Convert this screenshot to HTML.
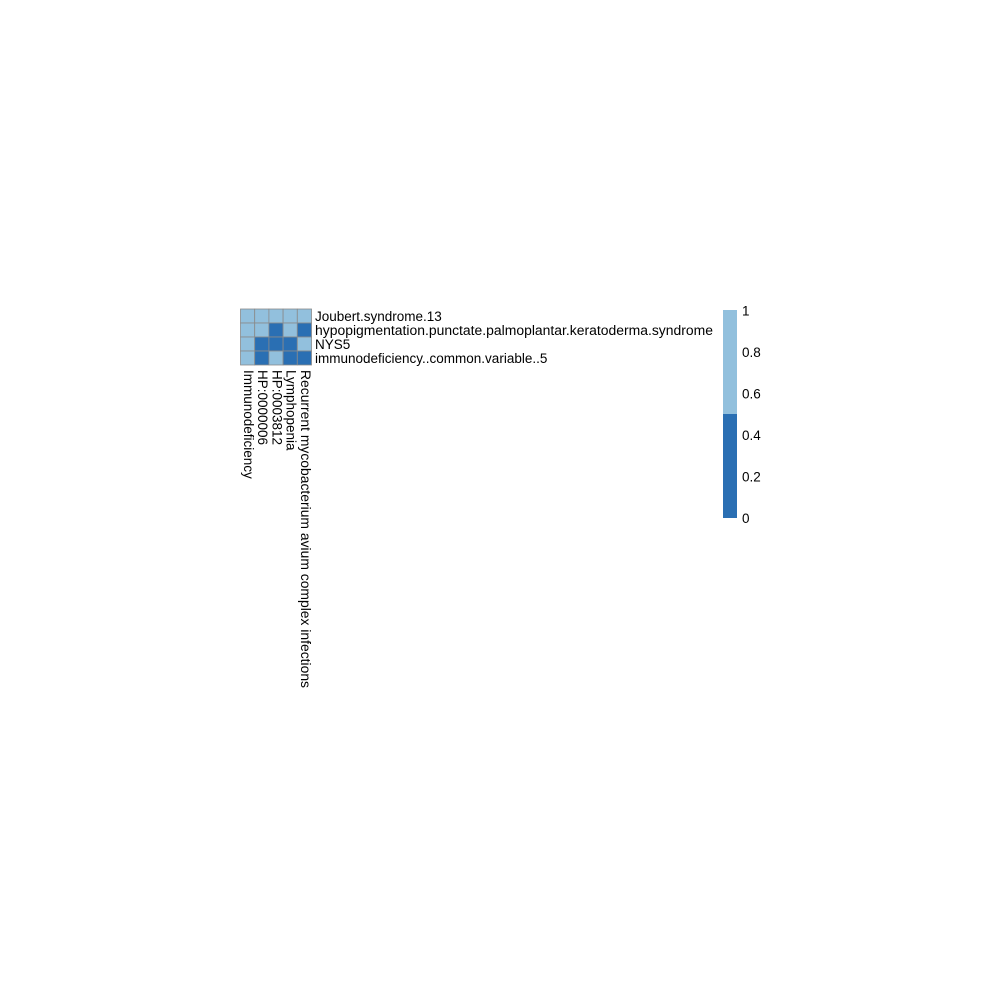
<!DOCTYPE html>
<html><head><style>body{margin:0;background:#fff}</style></head><body>
<svg width="1000" height="1000" xmlns="http://www.w3.org/2000/svg" font-family="Liberation Sans, Arial, sans-serif" font-size="13.5">
<rect width="1000" height="1000" fill="#fff"/>
<g stroke="#8a8a8a" stroke-width="0.8">
<rect x="240.5" y="309" width="14.2" height="14" fill="#92C0DD"/>
<rect x="254.7" y="309" width="14.2" height="14" fill="#92C0DD"/>
<rect x="268.9" y="309" width="14.2" height="14" fill="#92C0DD"/>
<rect x="283.1" y="309" width="14.2" height="14" fill="#92C0DD"/>
<rect x="297.3" y="309" width="14.2" height="14" fill="#92C0DD"/>

<rect x="240.5" y="323" width="14.2" height="14" fill="#92C0DD"/>
<rect x="254.7" y="323" width="14.2" height="14" fill="#92C0DD"/>
<rect x="268.9" y="323" width="14.2" height="14" fill="#2A6FB3"/>
<rect x="283.1" y="323" width="14.2" height="14" fill="#92C0DD"/>
<rect x="297.3" y="323" width="14.2" height="14" fill="#2A6FB3"/>

<rect x="240.5" y="337" width="14.2" height="14" fill="#92C0DD"/>
<rect x="254.7" y="337" width="14.2" height="14" fill="#2A6FB3"/>
<rect x="268.9" y="337" width="14.2" height="14" fill="#2A6FB3"/>
<rect x="283.1" y="337" width="14.2" height="14" fill="#2A6FB3"/>
<rect x="297.3" y="337" width="14.2" height="14" fill="#92C0DD"/>

<rect x="240.5" y="351" width="14.2" height="14" fill="#92C0DD"/>
<rect x="254.7" y="351" width="14.2" height="14" fill="#2A6FB3"/>
<rect x="268.9" y="351" width="14.2" height="14" fill="#92C0DD"/>
<rect x="283.1" y="351" width="14.2" height="14" fill="#2A6FB3"/>
<rect x="297.3" y="351" width="14.2" height="14" fill="#2A6FB3"/>
</g>
<g fill="#000">
<text x="315" y="321">Joubert.syndrome.13</text>
<text x="315" y="335" textLength="398" lengthAdjust="spacingAndGlyphs">hypopigmentation.punctate.palmoplantar.keratoderma.syndrome</text>
<text x="315" y="349">NYS5</text>
<text x="315" y="363">immunodeficiency..common.variable..5</text>
</g>
<g fill="#000">
<text transform="translate(244,370) rotate(90)">Immunodeficiency</text>
<text transform="translate(258.2,370) rotate(90)">HP:0000006</text>
<text transform="translate(272.4,370) rotate(90)">HP:0003812</text>
<text transform="translate(286.6,370) rotate(90)">Lymphopenia</text>
<text transform="translate(300.8,370) rotate(90)" textLength="318" lengthAdjust="spacingAndGlyphs">Recurrent mycobacterium avium complex infections</text>
</g>
<rect x="723" y="310" width="14" height="104" fill="#92C0DD"/>
<rect x="723" y="414" width="14" height="104" fill="#2A6FB3"/>
<g fill="#000">
<text x="742" y="315.5">1</text>
<text x="742" y="357">0.8</text>
<text x="742" y="398.5">0.6</text>
<text x="742" y="440">0.4</text>
<text x="742" y="481.5">0.2</text>
<text x="742" y="523">0</text>
</g>
</svg>
</body></html>
